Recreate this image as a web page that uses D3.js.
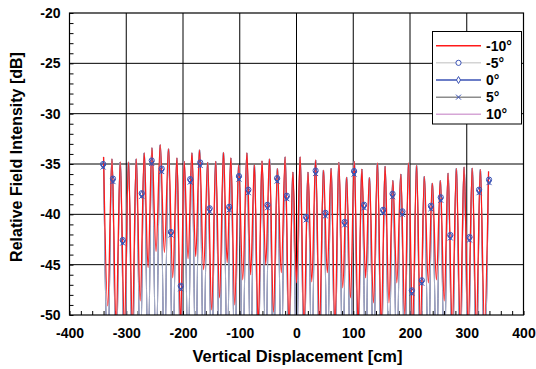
<!DOCTYPE html>
<html><head><meta charset="utf-8">
<script src="https://cdn.jsdelivr.net/npm/d3@7"></script>
<style>
body{margin:0;background:#fff}
svg{display:block}
text{font-family:"Liberation Sans",Arial,sans-serif;font-weight:bold;fill:#000}
</style>
</head><body>
<svg id="chart" width="536" height="369"></svg>
<script>
// ---------- data ----------
const seriesNames = ["-10°", "-5°", "0°", "5°", "10°"];
const xTickValues = [-400, -300, -200, -100, 0, 100, 200, 300, 400];
const yTickValues = [-50, -45, -40, -35, -30, -25, -20];

// lobe maxima (cm, dB) — shared by all angles
const peakX = [-340.0,-325.2,-310.6,-296.0,-282.4,-268.3,-254.8,-240.1,-225.5,-210.7,-197.9,-184.3,-170.9,-156.5,-142.4,-128.7,-115.7,-101.9,-87.4,-74.2,-60.8,-47.6,-33.6,-20.0,-6.4,6.4,20.2,33.7,47.5,61.0,74.6,88.3,101.9,115.1,128.5,142.6,156.1,169.7,183.8,197.5,211.6,225.2,239.4,253.5,267.1,281.7,295.3,309.7,324.0,338.4];
const peakY = [-34.3,-34.5,-34.8,-34.8,-34.5,-33.9,-33.4,-33.1,-33.5,-34.4,-34.75,-33.9,-33.6,-34.85,-34.75,-33.85,-34.4,-35.1,-33.9,-35.1,-34.7,-34.5,-35.45,-34.3,-35.8,-34.3,-35.8,-34.6,-35.6,-35.45,-34.85,-36.3,-34.75,-35.5,-36.35,-34.9,-35.25,-36.65,-36.0,-34.9,-35.15,-36.25,-36.9,-36.65,-35.9,-35.45,-35.3,-35.4,-35.55,-35.75];

// nulls between lobes
const nullX = [-332.6,-317.9,-303.3,-289.2,-275.4,-261.6,-247.5,-232.8,-218.1,-204.3,-191.1,-177.6,-163.7,-149.5,-135.6,-122.2,-108.8,-94.7,-80.8,-67.5,-54.2,-40.6,-26.8,-13.2,0.0,13.3,27.0,40.6,54.3,67.8,81.5,95.1,108.5,121.8,135.6,149.4,162.9,176.8,190.7,204.6,218.4,232.3,246.5,260.3,274.4,288.5,302.5,316.9,331.2];
// -10° null depths
const nullYm10 = [-49.1,-51,-51,-51,-48.6,-45.3,-43.7,-43.8,-46.3,-51,-44.4,-44.2,-45.5,-49.5,-48.3,-44.8,-49.0,-46.5,-46.0,-51,-45.0,-49.7,-45.8,-51,-46.8,-51,-46.7,-51,-45.8,-51,-47.3,-48.3,-51,-46.3,-48.8,-51,-48.8,-46.8,-50.0,-51,-51,-46.8,-46.5,-48.6,-51,-51,-51,-51,-51];
// other angles: nulls fall below the -50 dB floor
const nullYOther = [-55,-55,-55,-55,-55,-55,-55,-55,-55,-55,-55,-55,-55,-55,-55,-55,-55,-55,-55,-55,-55,-55,-55,-55,-55,-55,-55,-55,-55,-55,-55,-55,-55,-55,-55,-55,-55,-55,-55,-55,-55,-55,-55,-55,-55,-55,-55,-55,-55];

// marker samples
const markX = [-340.7,-323.4,-306.2,-272.7,-255.1,-237.5,-221.3,-204.0,-187.3,-169.7,-153.0,-118.6,-101.4,-84.8,-51.2,-34.1,-17.0,17.0,33.7,51.0,84.8,101.5,119.1,152.6,169.3,186.6,203.3,220.9,236.8,254.2,271.1,304.9,321.7,339.3];
const markYm5 = [-35.0,-36.45,-42.55,-37.9,-34.65,-35.45,-41.75,-47.1,-36.5,-34.85,-39.4,-39.25,-36.2,-37.55,-39.05,-36.4,-38.15,-40.25,-35.65,-39.85,-40.75,-35.7,-39.05,-39.55,-37.95,-39.7,-47.55,-46.55,-39.15,-38.3,-42.05,-42.25,-37.55,-36.55];
const markY0 = [-35.15,-36.6,-42.7,-38.05,-34.8,-35.6,-41.9,-47.25,-36.65,-35.0,-39.55,-39.4,-36.35,-37.7,-39.2,-36.55,-38.3,-40.4,-35.8,-40.0,-40.9,-35.85,-39.2,-39.7,-38.1,-39.85,-47.7,-46.7,-39.3,-38.45,-42.2,-42.4,-37.7,-36.7];
const markYp5 = [-35.3,-36.75,-42.85,-38.2,-34.95,-35.75,-42.05,-47.4,-36.8,-35.15,-39.7,-39.55,-36.5,-37.85,-39.35,-36.7,-38.45,-40.55,-35.95,-40.15,-41.05,-36.0,-39.35,-39.85,-38.25,-40.0,-47.85,-46.85,-39.45,-38.6,-42.35,-42.55,-37.85,-36.85];

// ---------- chart ----------
const svg = d3.select("#chart");
svg.append("rect").attr("width",536).attr("height",369).attr("fill","#fff");

const L = 69.5, R = 523.5, T = 13, B = 315;
const x = d3.scaleLinear().domain([-400, 400]).range([L, R]);
const y = d3.scaleLinear().domain([-50, -20]).range([B, T]);
const fmt = d => String(d);

// gridlines
const g = svg.append("g");
g.selectAll(".vg").data(xTickValues.slice(1, -1)).join("line")
  .attr("x1", d => x(d)).attr("x2", d => x(d)).attr("y1", T).attr("y2", B)
  .attr("stroke", "#000").attr("stroke-width", 1);
g.selectAll(".hg").data(yTickValues.slice(1, -1)).join("line")
  .attr("y1", d => y(d)).attr("y2", d => y(d)).attr("x1", L).attr("x2", R)
  .attr("stroke", "#000").attr("stroke-width", 1);

// minor ticks (inward)
const yMinor = d3.range(-50, -19, 1);
const xMinor = d3.range(-400, 401, 20);
svg.append("g").attr("transform", `translate(${L},0)`)
  .call(d3.axisRight(y).tickValues(yMinor).tickSize(4).tickFormat(""))
  .call(a => a.select(".domain").remove())
  .selectAll("line").attr("stroke", "#000");
svg.append("g").attr("transform", `translate(0,${B})`)
  .call(d3.axisTop(x).tickValues(xMinor).tickSize(4).tickFormat(""))
  .call(a => a.select(".domain").remove())
  .selectAll("line").attr("stroke", "#000");

// tick labels
const yAx = svg.append("g").attr("transform", `translate(${L},0)`)
  .call(d3.axisLeft(y).tickValues(yTickValues).tickSize(0).tickPadding(9).tickFormat(fmt));
yAx.select(".domain").remove();
yAx.selectAll("text").style("font-size", "14px").style("font-family", "'Liberation Sans',Arial,sans-serif").style("font-weight", "bold").attr("fill", "#000");
const xAx = svg.append("g").attr("transform", `translate(0,${B})`)
  .call(d3.axisBottom(x).tickValues(xTickValues).tickSize(0).tickPadding(13).tickFormat(fmt));
xAx.select(".domain").remove();
xAx.selectAll("text").style("font-size", "14px").style("font-family", "'Liberation Sans',Arial,sans-serif").style("font-weight", "bold").attr("fill", "#000");

// clip
svg.append("clipPath").attr("id", "plotclip").append("rect")
  .attr("x", L).attr("y", T).attr("width", R - L).attr("height", B - T);

function buildPts(nullY) {
  const pts = [];
  peakX.forEach((px, i) => {
    pts.push([px, peakY[i]]);
    if (i < nullX.length) pts.push([nullX[i], nullY[i]]);
  });
  return pts;
}
const line = d3.line().x(d => x(d[0])).y(d => y(d[1])).curve(d3.curveMonotoneX);

const plot = svg.append("g").attr("clip-path", "url(#plotclip)");
const otherPts = buildPts(nullYOther);
// draw order: 10°, 5°, 0°, -5°, then -10° on top
plot.append("path").attr("d", line(otherPts)).attr("fill", "none").attr("stroke", "#d6a6d6").attr("stroke-width", 1);
plot.append("path").attr("d", line(otherPts)).attr("fill", "none").attr("stroke", "#8c8c8c").attr("stroke-width", 1);
plot.append("path").attr("d", line(otherPts)).attr("fill", "none").attr("stroke", "#4058a8").attr("stroke-width", 1);
plot.append("path").attr("d", line(otherPts)).attr("fill", "none").attr("stroke", "#d4d4d4").attr("stroke-width", 1).attr("stroke-opacity", 0.7);
plot.append("path").attr("d", line(buildPts(nullYm10))).attr("fill", "none").attr("stroke", "#ff1a1a").attr("stroke-width", 1.3);

// markers
const mColor = "#3a52b4";
const diamond = d3.symbol().type(d3.symbolDiamond).size(14);
const cross = d3.symbol().type(d3.symbolX).size(18);
plot.selectAll(".mm5").data(markX.map((v, i) => [v, markYm5[i]])).join("circle")
  .attr("cx", d => x(d[0])).attr("cy", d => y(d[1])).attr("r", 2.6)
  .attr("fill", "none").attr("stroke", mColor).attr("stroke-width", 1);
plot.selectAll(".m0").data(markX.map((v, i) => [v, markY0[i]])).join("path")
  .attr("transform", d => `translate(${x(d[0])},${y(d[1])})`).attr("d", diamond)
  .attr("fill", "none").attr("stroke", mColor).attr("stroke-width", 1);
plot.selectAll(".mp5").data(markX.map((v, i) => [v, markYp5[i]])).join("path")
  .attr("transform", d => `translate(${x(d[0])},${y(d[1])})`).attr("d", cross)
  .attr("fill", "none").attr("stroke", mColor).attr("stroke-width", 1);

// frame
svg.append("rect").attr("x", L).attr("y", T).attr("width", R - L).attr("height", B - T)
  .attr("fill", "none").attr("stroke", "#000").attr("stroke-width", 1.2);

// axis titles
svg.append("text").attr("x", 297.5).attr("y", 361.5).attr("text-anchor", "middle")
  .style("font-size", "16.5px").text("Vertical Displacement [cm]");
svg.append("text").attr("transform", "translate(21.5,157) rotate(-90)").attr("text-anchor", "middle")
  .style("font-size", "16px").text("Relative Field Intensity [dB]");

// legend
const lg = svg.append("g");
lg.append("rect").attr("x", 432.5).attr("y", 31.5).attr("width", 89).attr("height", 92.5)
  .attr("fill", "#fff").attr("stroke", "#000").attr("stroke-width", 1);
const legColors = ["#ff1a1a", "#d4d4d4", "#3a52b4", "#8c8c8c", "#d6a6d6"];
const legMarks = [null, "circle", "diamond", "cross", null];
seriesNames.forEach((name, i) => {
  const ly = 45.7 + i * 17.15;
  lg.append("line").attr("x1", 436).attr("x2", 481).attr("y1", ly).attr("y2", ly)
    .attr("stroke", legColors[i]).attr("stroke-width", 1.5);
  const mx = 458.5;
  if (legMarks[i] === "circle") {
    lg.append("circle").attr("cx", mx).attr("cy", ly).attr("r", 2.6).attr("fill", "#fff").attr("stroke", mColor);
  } else if (legMarks[i] === "diamond") {
    lg.append("path").attr("transform", `translate(${mx},${ly})`).attr("d", diamond).attr("fill", "#fff").attr("stroke", mColor);
  } else if (legMarks[i] === "cross") {
    lg.append("path").attr("transform", `translate(${mx},${ly})`).attr("d", cross).attr("fill", "none").attr("stroke", mColor);
  }
  lg.append("text").attr("x", 486).attr("y", ly + 5).style("font-size", "14px").text(name);
});
</script>
</body></html>
